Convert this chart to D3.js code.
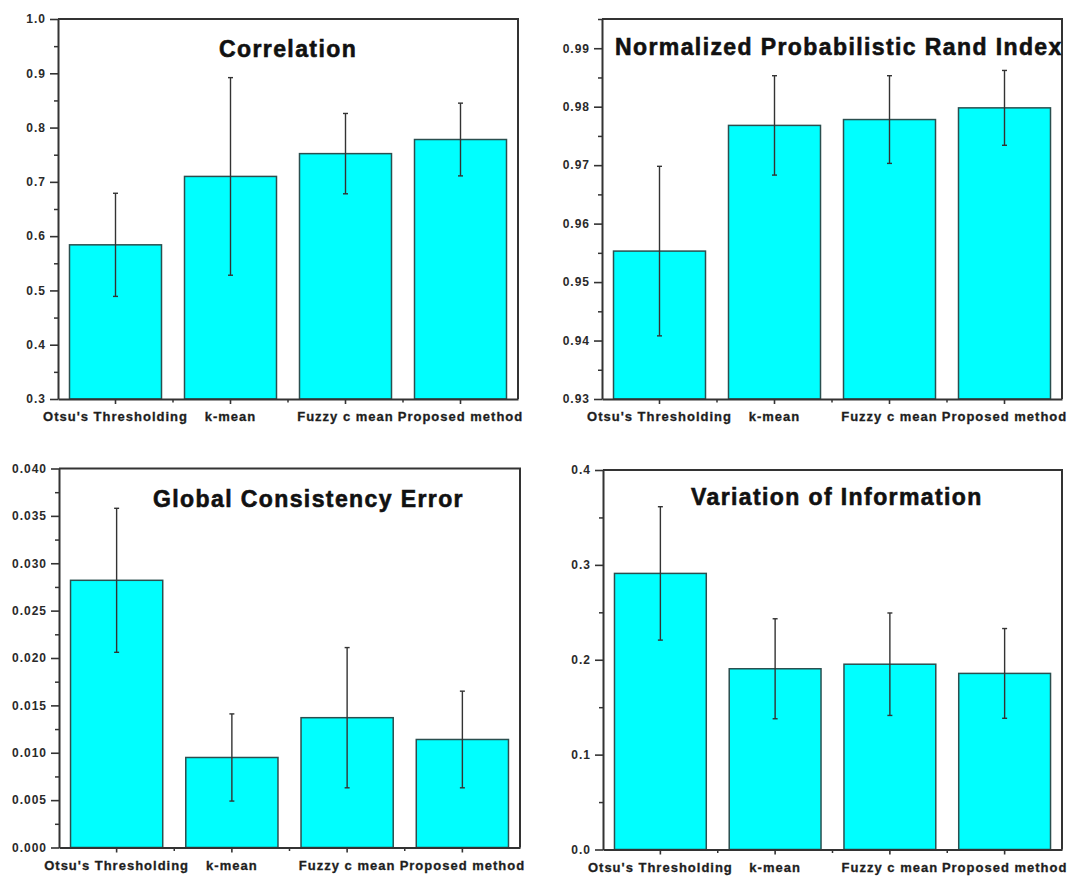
<!DOCTYPE html>
<html>
<head>
<meta charset="utf-8">
<script src="https://cdn.jsdelivr.net/npm/d3@7"></script>
<style>
  html, body { margin: 0; padding: 0; background: #fff; }
  svg { display: block; }
  text { font-family: "Liberation Sans", Arial, sans-serif; font-weight: bold; }
</style>
</head>
<body>
<svg id="chart" width="1071" height="877"></svg>
<script>
// ---------- data ----------
const categories = ["Otsu's Thresholding", "k-mean", "Fuzzy c mean", "Proposed method"];

const correlationMean = [0.584, 0.710, 0.752, 0.778];
const correlationErr  = [0.095, 0.182, 0.074, 0.067];

const npriMean = [0.9553, 0.9768, 0.9778, 0.9798];
const npriErr  = [0.0145, 0.0085, 0.0075, 0.0064];

const gceMean = [0.0282, 0.0095, 0.0137, 0.0114];
const gceErr  = [0.0076, 0.0046, 0.0074, 0.0051];

const viMean = [0.291, 0.1905, 0.1953, 0.1856];
const viErr  = [0.0703, 0.0527, 0.0540, 0.0473];

const titles = ["Correlation", "Normalized Probabilistic Rand Index", "Global Consistency Error", "Variation of Information"];

const corrTicks = [0.3, 0.4, 0.5, 0.6, 0.7, 0.8, 0.9, 1.0];
const npriTicks = [0.93, 0.94, 0.95, 0.96, 0.97, 0.98, 0.99];
const gceTicks  = [0.000, 0.005, 0.010, 0.015, 0.020, 0.025, 0.030, 0.035, 0.040];
const viTicks   = [0.0, 0.1, 0.2, 0.3, 0.4];

const corrDomain = [0.3, 1.0];
const npriDomain = [0.93, 0.995];
const gceDomain  = [0.0, 0.04];
const viDomain   = [0.0, 0.4];

// ---------- layout ----------
const panels = [
  { title: titles[0], mean: correlationMean, err: correlationErr, ticks: corrTicks, domain: corrDomain, fmt: ".1f",
    left: 58, right: 518, top: 19, bottom: 399, titleX: 161, titleY: 57 },
  { title: titles[1], mean: npriMean, err: npriErr, ticks: npriTicks, domain: npriDomain, fmt: ".2f",
    left: 602, right: 1062, top: 19, bottom: 399, titleX: 13, titleY: 55 },
  { title: titles[2], mean: gceMean, err: gceErr, ticks: gceTicks, domain: gceDomain, fmt: ".3f",
    left: 59, right: 520, top: 468.5, bottom: 847.5, titleX: 94, titleY: 507 },
  { title: titles[3], mean: viMean, err: viErr, ticks: viTicks, domain: viDomain, fmt: ".1f",
    left: 603, right: 1062, top: 470, bottom: 849.5, titleX: 88, titleY: 505 }
];

const svg = d3.select("#chart");
const axisColor = "#333";
const textColor = "#1e1e1e";

panels.forEach(p => {
  const g = svg.append("g");

  const x = d3.scaleBand().domain(categories).range([p.left, p.right]).paddingInner(0.2).paddingOuter(0.1);
  const y = d3.scaleLinear().domain(p.domain).range([p.bottom, p.top]);

  // bars
  g.selectAll("rect.bar").data(categories).join("rect")
    .attr("class", "bar")
    .attr("x", d => x(d))
    .attr("width", x.bandwidth())
    .attr("y", (d, i) => y(p.mean[i]))
    .attr("height", (d, i) => y(p.domain[0]) - y(p.mean[i]))
    .attr("fill", "#00ffff")
    .attr("stroke", "#2b4f4f")
    .attr("stroke-width", 1.5);

  // error bars
  const eb = g.selectAll("g.err").data(categories).join("g").attr("class", "err");
  eb.append("line")
    .attr("x1", d => x(d) + x.bandwidth() / 2).attr("x2", d => x(d) + x.bandwidth() / 2)
    .attr("y1", (d, i) => y(p.mean[i] + p.err[i])).attr("y2", (d, i) => y(p.mean[i] - p.err[i]))
    .attr("stroke", axisColor).attr("stroke-width", 1.4);
  [1, -1].forEach(s => {
    eb.append("line")
      .attr("x1", d => x(d) + x.bandwidth() / 2 - 2.5).attr("x2", d => x(d) + x.bandwidth() / 2 + 2.5)
      .attr("y1", (d, i) => y(p.mean[i] + s * p.err[i])).attr("y2", (d, i) => y(p.mean[i] + s * p.err[i]))
      .attr("stroke", axisColor).attr("stroke-width", 1.4);
  });

  // frame (top + right)
  g.append("path")
    .attr("d", `M${p.left},${p.top}H${p.right}V${p.bottom}`)
    .attr("fill", "none").attr("stroke", axisColor).attr("stroke-width", 2);

  // minor y ticks
  const minor = [];
  for (let i = 0; i < p.ticks.length; i++) {
    const step = p.ticks[1] - p.ticks[0];
    const m = p.ticks[i] + step / 2;
    if (m <= p.domain[1] + 1e-9) minor.push(m);
  }
  const yMinor = g.append("g").attr("transform", `translate(${p.left},0)`)
    .call(d3.axisLeft(y).tickValues(minor).tickSize(4).tickSizeOuter(0).tickFormat(""));
  yMinor.select(".domain").remove();
  yMinor.selectAll("line").attr("stroke", axisColor).attr("stroke-width", 1.5);

  // major y axis
  const yAx = g.append("g").attr("transform", `translate(${p.left},0)`)
    .call(d3.axisLeft(y).tickValues(p.ticks).tickSize(8).tickSizeOuter(0).tickPadding(4).tickFormat(d3.format(p.fmt)));
  yAx.select(".domain").attr("stroke", axisColor).attr("stroke-width", 2);
  yAx.selectAll("line").attr("stroke", axisColor).attr("stroke-width", 1.6);
  yAx.selectAll("text").attr("fill", "#2a2a2a").style("font-size", "12px").style("letter-spacing", "1px");

  // minor x ticks at band boundaries
  const bounds = categories.slice(1).map(c => x(c) - x.step() * x.paddingInner() / 2);
  g.selectAll("line.xminor").data(bounds).join("line")
    .attr("class", "xminor")
    .attr("x1", d => d).attr("x2", d => d)
    .attr("y1", p.bottom).attr("y2", p.bottom + 3.5)
    .attr("stroke", axisColor).attr("stroke-width", 1.5);

  // x axis
  const xAx = g.append("g").attr("transform", `translate(0,${p.bottom})`)
    .call(d3.axisBottom(x).tickSize(5).tickSizeOuter(0).tickPadding(8));
  xAx.select(".domain").attr("stroke", axisColor).attr("stroke-width", 2);
  xAx.selectAll("line").attr("stroke", axisColor).attr("stroke-width", 1.6);
  xAx.selectAll("text").attr("fill", textColor)
    .attr("stroke", textColor).attr("stroke-width", 0.3)
    .style("font-size", "13px").style("letter-spacing", "1px");

  // title
  g.append("text")
    .attr("x", p.left + p.titleX).attr("y", p.titleY)
    .attr("fill", "#111").attr("stroke", "#111").attr("stroke-width", 0.6)
    .style("font-size", "23px").style("letter-spacing", "1.4px")
    .text(p.title);
});
</script>
</body>
</html>
